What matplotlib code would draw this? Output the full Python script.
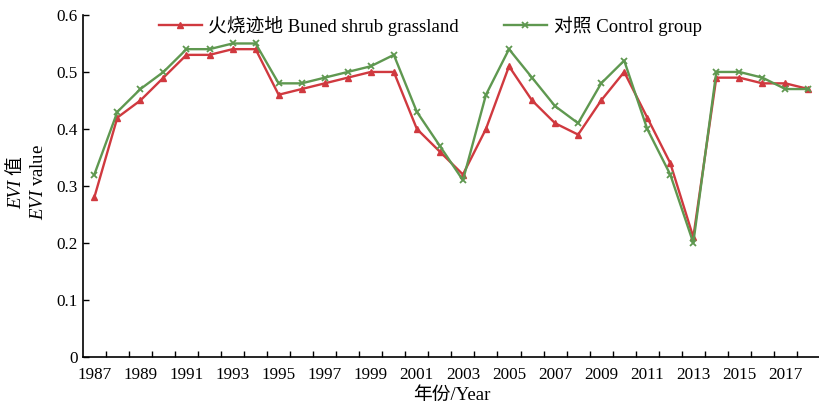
import matplotlib
matplotlib.use("Agg")
import matplotlib.pyplot as plt
import numpy as np

plt.rcParams['font.family'] = ['Liberation Serif', 'Noto Sans CJK SC']
plt.rcParams['mathtext.fontset'] = 'custom'
plt.rcParams['mathtext.it'] = 'Liberation Serif:italic'
plt.rcParams['mathtext.rm'] = 'Liberation Serif'

years = list(range(1987, 2019))
burned = [0.28, 0.42, 0.45, 0.49, 0.53, 0.53, 0.54, 0.54, 0.46, 0.47,
          0.48, 0.49, 0.50, 0.50, 0.40, 0.36, 0.32, 0.40, 0.51, 0.45,
          0.41, 0.39, 0.45, 0.50, 0.42, 0.34, 0.21, 0.49, 0.49, 0.48,
          0.48, 0.47]
control = [0.32, 0.43, 0.47, 0.50, 0.54, 0.54, 0.55, 0.55, 0.48, 0.48,
           0.49, 0.50, 0.51, 0.53, 0.43, 0.37, 0.31, 0.46, 0.54, 0.49,
           0.44, 0.41, 0.48, 0.52, 0.40, 0.32, 0.20, 0.50, 0.50, 0.49,
           0.47, 0.47]
yticks = [0, 0.1, 0.2, 0.3, 0.4, 0.5, 0.6]
ytick_labels = ['0', '0.1', '0.2', '0.3', '0.4', '0.5', '0.6']

fig = plt.figure(figsize=(8.2, 4.05), dpi=100)
ax = fig.add_axes([0.101, 0.119, 0.899, 0.844])

x = np.arange(len(years))
ax.plot(x, burned, color='#d0393f', lw=1.7, marker='^', ms=4,
        label='火烧迹地 Buned shrub grassland')
ax.plot(x, control, color='#5f9850', lw=1.7, marker='x', ms=5, mew=1.3,
        label='对照 Control group')

ax.set_xlim(-0.5, len(years) - 0.68)
ax.set_ylim(0, 0.6)
ax.set_yticks(yticks)
ax.set_yticklabels(ytick_labels)

# category-style axis: labels every other year, ticks between years
ax.set_xticks(x[::2])
ax.set_xticklabels([str(y) for y in years[::2]])
ax.set_xticks(np.arange(len(years)) + 0.5, minor=True)
ax.tick_params(axis='x', which='major', length=0, labelsize=12.3, pad=7)
ax.tick_params(axis='x', which='minor', direction='in', length=4, width=1)
ax.tick_params(axis='y', direction='in', length=4, width=1, labelsize=12.3)

for s in ['top', 'right']:
    ax.spines[s].set_visible(False)
for s in ['left', 'bottom']:
    ax.spines[s].set_linewidth(1.2)

ax.set_xlabel('年份/Year', fontsize=13.5, labelpad=3)

# two-line y label; the Chinese line is a plain text so the CJK glyph falls back
fig.text(17 / 820, 0.55, 'EVI 值', rotation=90, fontsize=13.5,
         fontstyle='italic', ha='center', va='center')
fig.text(39 / 820, 0.55, '$EVI$ value', rotation=90, fontsize=13.5,
         ha='center', va='center')

ax.legend(loc='center', bbox_to_anchor=(0.471, 0.969), ncol=2,
          frameon=False, fontsize=13.5, handlelength=2.3, handletextpad=0.35,
          columnspacing=2.4)

fig.savefig('out.png', dpi=100)
